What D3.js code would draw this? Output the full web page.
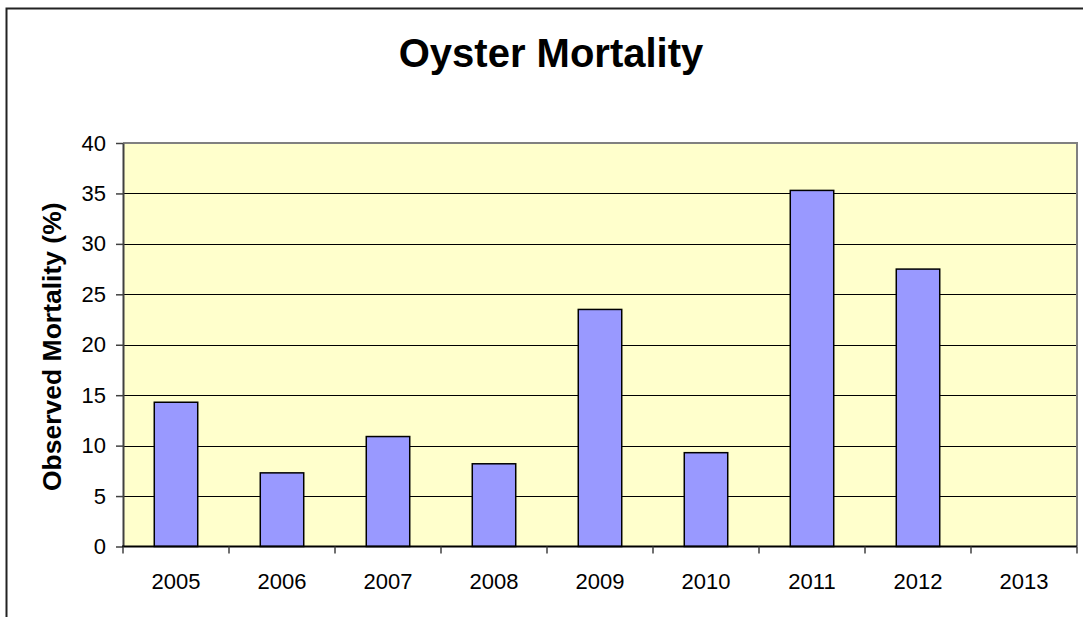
<!DOCTYPE html>
<html>
<head>
<meta charset="utf-8">
<script src="https://cdn.jsdelivr.net/npm/d3@7/dist/d3.min.js"></script>
<style>
  html, body { margin: 0; padding: 0; background: #fff; }
  svg { display: block; font-family: Arial, "Liberation Sans", sans-serif; }
</style>
</head>
<body>
<svg id="chart" width="1083" height="617"></svg>
<script>
const categories = ["2005", "2006", "2007", "2008", "2009", "2010", "2011", "2012", "2013"];
const mortality = [14.3, 7.3, 10.9, 8.2, 23.5, 9.3, 35.3, 27.5, null];
const yTicks = [0, 5, 10, 15, 20, 25, 30, 35, 40];
const titleText = "Oyster Mortality";
const yAxisTitle = "Observed Mortality (%)";

const svg = d3.select("#chart");
const W = 1083, H = 617;
const plot = { left: 123, top: 143, right: 1077, bottom: 546.5 };

// outer chart frame (right/bottom edges outside the picture)
svg.append("rect")
  .attr("x", 6.5).attr("y", 8.5)
  .attr("width", W + 20).attr("height", H + 20)
  .attr("fill", "#fff").attr("stroke", "#222").attr("stroke-width", 2);

const x = d3.scaleBand().domain(categories).range([plot.left, plot.right]).paddingInner(0).paddingOuter(0);
const y = d3.scaleLinear().domain([0, 40]).range([plot.bottom, plot.top]);

// plot background
svg.append("rect")
  .attr("x", plot.left).attr("y", plot.top)
  .attr("width", plot.right - plot.left).attr("height", plot.bottom - plot.top)
  .attr("fill", "#FFFFCC");

// gridlines
svg.append("g").selectAll("line")
  .data(yTicks.filter(t => t > 0 && t < 40))
  .join("line")
  .attr("x1", plot.left).attr("x2", plot.right)
  .attr("y1", d => Math.round(y(d)) + 0.5).attr("y2", d => Math.round(y(d)) + 0.5)
  .attr("stroke", "#000").attr("stroke-width", 1);

// plot border (top & right)
svg.append("path")
  .attr("d", `M${plot.left},${plot.top} H${plot.right} V${plot.bottom}`)
  .attr("fill", "none").attr("stroke", "#808080").attr("stroke-width", 2);

// bars
const bw = x.bandwidth() * 0.41;
svg.append("g").selectAll("rect")
  .data(categories.map((c, i) => ({ c, v: mortality[i] })).filter(d => d.v != null))
  .join("rect")
  .attr("x", d => x(d.c) + (x.bandwidth() - bw) / 2)
  .attr("y", d => y(d.v))
  .attr("width", bw)
  .attr("height", d => y(0) - y(d.v))
  .attr("fill", "#9999FF")
  .attr("stroke", "#000").attr("stroke-width", 1.5);

// y axis
const yAxis = d3.axisLeft(y).tickValues(yTicks).tickSize(7).tickPadding(10).tickSizeOuter(0);
const gy = svg.append("g").attr("transform", `translate(${plot.left},0)`).call(yAxis);
gy.attr("font-size", null).attr("font-family", null);
gy.select(".domain").attr("stroke", "#404040").attr("stroke-width", 2);
gy.selectAll(".tick line").attr("stroke", "#404040").attr("stroke-width", 1.5);
gy.selectAll(".tick text").attr("font-size", 22).attr("fill", "#000");

// x axis
const gx = svg.append("g").attr("transform", `translate(0,${plot.bottom})`);
gx.append("line").attr("x1", plot.left - 1).attr("x2", plot.right)
  .attr("y1", 0).attr("y2", 0).attr("stroke", "#000").attr("stroke-width", 2);
const boundaries = categories.map(c => x(c)).concat([plot.right]);
gx.selectAll("line.tk").data(boundaries).join("line").attr("class", "tk")
  .attr("x1", d => d).attr("x2", d => d).attr("y1", 0).attr("y2", 7)
  .attr("stroke", "#404040").attr("stroke-width", 1.5);
gx.selectAll("text").data(categories).join("text")
  .attr("x", d => x(d) + x.bandwidth() / 2).attr("y", 42)
  .attr("text-anchor", "middle").attr("font-size", 22).attr("fill", "#000")
  .text(d => d);

// title
svg.append("text")
  .attr("x", 551).attr("y", 67)
  .attr("text-anchor", "middle").attr("font-size", 40).attr("font-weight", "bold")
  .text(titleText);

// y axis title
svg.append("text")
  .attr("transform", `translate(61,${(plot.top + plot.bottom) / 2 + 2}) rotate(-90)`)
  .attr("text-anchor", "middle").attr("font-size", 26.5).attr("font-weight", "bold")
  .text(yAxisTitle);
</script>
</body>
</html>
